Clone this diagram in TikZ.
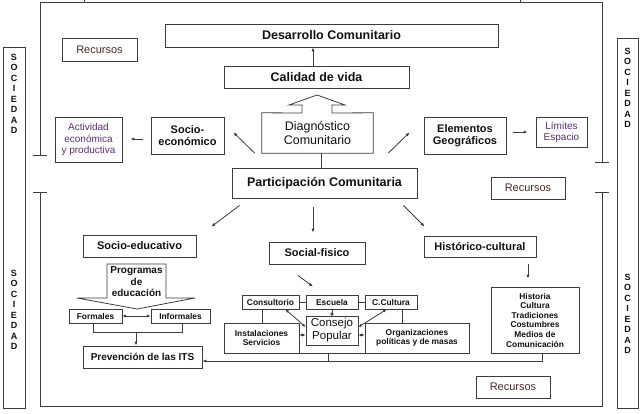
\documentclass[tikz,border=0pt]{standalone}
\usepackage{fontspec}
\setmainfont{Liberation Sans}
\usetikzlibrary{arrows.meta}
\definecolor{lc}{HTML}{3C3C3C}
\definecolor{txt}{HTML}{111111}
\definecolor{recc}{HTML}{4A2A2A}
\definecolor{purp}{HTML}{5A2E78}
\tikzset{
  box/.style={draw=lc, line width=0.8pt, inner sep=0pt, align=center, text=txt},
  bigb/.style={font=\fontsize{12.5}{14}\selectfont\bfseries},
  midb/.style={font=\fontsize{11}{12.5}\selectfont\bfseries},
  smb/.style={font=\fontsize{8.4}{9.6}\selectfont\bfseries},
  rectxt/.style={font=\fontsize{11}{13}\selectfont, text=recc},
  purtxt/.style={font=\fontsize{10}{11.2}\selectfont, text=purp},
  ln/.style={draw=lc, line width=0.8pt},
  arr/.style={ln, -{Latex[length=4pt,width=3.2pt]}},
  darr/.style={ln, {Latex[length=3.5pt,width=3pt]}-{Latex[length=3.5pt,width=3pt]}},
  socbar/.style={draw=lc, line width=0.8pt},
  soctxt/.style={align=center, inner sep=0pt, text=txt, font=\fontsize{9}{10.5}\selectfont\bfseries}
}
\begin{document}
\begin{tikzpicture}[x=1pt,y=-1pt]
\useasboundingbox[fill=white] (0,0) rectangle (642,414);

% outer frame
\draw[ln] (40,155) -- (40,2) -- (602,2) -- (602,162);
\draw[ln] (84,0) -- (84,2);
\draw[ln] (520,0) -- (520,2);
\draw[ln] (33,155) -- (47,155);
\draw[ln] (595,162) -- (609,162);
\draw[ln] (33,192) -- (47,192);
\draw[ln] (595,192) -- (609,192);
\draw[ln] (40,192) -- (40,406) -- (602,406) -- (602,192);

% SOCIEDAD bars
\draw[socbar] (3,47) rectangle (25,408);
\draw[socbar] (617,38) rectangle (638,408);
\node[soctxt] (socL1) at (14,94) {S\\O\\C\\I\\E\\D\\A\\D};
\node[soctxt] (socL2) at (14,310) {S\\O\\C\\I\\E\\D\\A\\D};
\node[soctxt] (socR1) at (627.5,88) {S\\O\\C\\I\\E\\D\\A\\D};
\node[soctxt] (socR2) at (627.5,314) {S\\O\\C\\I\\E\\D\\A\\D};

% top boxes
\node[box,bigb,minimum width=333,minimum height=23] (des) at (331.5,35.5) {Desarrollo Comunitario};
\node[box,rectxt,minimum width=75,minimum height=23] (rec1) at (99.5,49.5) {Recursos};
\node[box,bigb,minimum width=185,minimum height=22] (cal) at (316.5,77) {Calidad de vida};
\draw[arr] ([xshift=-3.5pt]cal.north) -- ([xshift=-3.5pt]cal.north |- des.south);

% diagnostico with block arrow
\node[inner sep=0pt,minimum width=111,minimum height=40,align=center,text=txt,
      font=\fontsize{12.5}{14.5}\selectfont] (diag) at (317.5,133) {Diagnóstico\\Comunitario};
\draw[ln] (diag.south west) -- (diag.north west) -- (302,113) -- (302,105) -- (289,105)
   -- (317,95) -- (345,105) -- (332,105) -- (332,113) -- (diag.north east)
   -- (diag.south east) -- cycle;

\node[box,bigb,minimum width=185,minimum height=30] (part) at (324.5,183) {Participación Comunitaria};
\draw[ln] ([xshift=3.5pt]diag.south) -- ([xshift=3.5pt]diag.south |- part.north);

\node[box,midb,minimum width=73,minimum height=37] (socec) at (187.5,135.5) {Socio-\\económico};
\node[box,purtxt,minimum width=67,minimum height=45] (act) at (88.5,139.5) {Actividad\\económica\\y productiva};
\node[box,midb,minimum width=82,minimum height=37] (elem) at (465,135.5) {Elementos\\Geográficos};
\node[box,purtxt,minimum width=51,minimum height=30] (lim) at (561.5,132) {Límites\\Espacio};
\node[box,rectxt,minimum width=74,minimum height=22] (rec2) at (528,188) {Recursos};

\draw[arr] ([xshift=-8pt,yshift=-3.5pt]socec.west) -- ([xshift=8pt,yshift=0.5pt]act.east);
\draw[arr] ([xshift=-7pt]diag.south west) -- ([xshift=9pt,yshift=22pt]socec.south east);
\draw[arr] ([xshift=15pt]diag.south east) -- ([xshift=-14pt,yshift=22pt]elem.south west);
\draw[arr] ([xshift=7pt,yshift=3.5pt]elem.east) -- ([xshift=-8pt]lim.west);

% second level
\node[box,midb,minimum width=113,minimum height=22] (soced) at (139.5,246) {Socio-educativo};
\node[box,midb,minimum width=96,minimum height=22] (socfis) at (317,253) {Social-fisico};
\node[box,midb,minimum width=112,minimum height=21] (hist) at (480,246.5) {Histórico-cultural};

\draw[arr] ([xshift=8pt,yshift=-7pt]part.south west) -- ([xshift=15pt,yshift=8pt]soced.north east);
\draw[arr] ([xshift=-11.5pt,yshift=-9pt]part.south) -- ([xshift=-4pt,yshift=9pt]socfis.north);
\draw[arr] ([xshift=-14pt,yshift=-7pt]part.south east) -- ([xshift=1pt,yshift=9pt]hist.north west);

% historico branch
\node[box,smb,minimum width=88,minimum height=66] (histbox) at (535,320)
  {Historia\\Cultura\\Tradiciones\\Costumbres\\Medios de\\Comunicación};
\draw[arr] ([xshift=48pt,yshift=-7pt]hist.south) -- ([xshift=-7pt,yshift=8pt]histbox.north);

% socio-educativo branch
\draw[ln] (107,298) -- (107,264) -- (166,264) -- (166,298) -- (195,298) -- (137,309)
   -- (77,298) -- cycle;
\node[align=center,inner sep=0pt,text=txt,font=\fontsize{10}{11.5}\selectfont\bfseries] (prog) at (136.5,282) {Programas\\de\\educación};
\node[box,smb,minimum width=53,minimum height=14] (form) at (95.5,316) {Formales};
\node[box,smb,minimum width=59,minimum height=14] (inf) at (180.5,316) {Informales};
\draw[darr] (form.east) -- (inf.west);
\draw[ln] ([xshift=-2.5pt]form.south) -- ++(0,9) -| ([xshift=1.5pt]inf.south);
\coordinate (br) at (136,332);
\node[box,font=\fontsize{10}{12}\selectfont\bfseries,minimum width=119,minimum height=22] (prev) at (142.5,357) {Prevención de las ITS};
\draw[arr] (br) -- (br |- prev.north);

% social-fisico cluster
\node[box,smb,minimum width=57,minimum height=14] (cons) at (270.5,302) {Consultorio};
\node[box,smb,minimum width=52,minimum height=14] (esc) at (332,302) {Escuela};
\node[box,smb,minimum width=52,minimum height=14] (ccult) at (391,302) {C.Cultura};
\node[box,smb,minimum width=75,minimum height=30] (inst) at (261.5,338) {Instalaciones\\Servicios};
\node[box,font=\fontsize{11.5}{13}\selectfont,minimum width=52,minimum height=29] (cpop) at (332,330.5) {Consejo\\Popular};
\node[box,smb,minimum width=104,minimum height=30] (org) at (417,338) {Organizaciones\\políticas y de masas};

\draw[arr] ([xshift=-19pt,yshift=-11pt]socfis.south) -- ([xshift=-19pt,yshift=8pt]esc.north);
\draw[ln] (cons.east) -- (esc.west);
\draw[ln] (esc.east) -- (ccult.west);
\draw[ln] ([xshift=-8.5pt]cons.south) -- ([xshift=-8.5pt]cons.south |- inst.north);
\draw[ln] ([xshift=11pt]ccult.south) -- ([xshift=11pt]ccult.south |- org.north);
\draw[ln,-{Circle[length=3pt]}] (esc.south) -- (cpop.north);
\draw[darr] ([xshift=-14pt]cons.south east) -- ([yshift=3.5pt]cpop.west);
\draw[darr] ([xshift=22pt]ccult.south west) -- ([yshift=3.5pt]cpop.east);
\draw[darr] ([yshift=3pt]inst.east) -- ([yshift=3pt]inst.east -| cpop.west);
\draw[darr] ([yshift=3pt]org.west) -- ([yshift=3pt]org.west -| cpop.east);
\draw[ln] (inst.south east) -- (org.south west);
\coordinate (jn) at (328,361);
\draw[ln] (jn |- inst.south) -- (jn);
\draw[arr] ([xshift=7pt]histbox.south) |- ([yshift=-4pt]prev.east);

\node[box,rectxt,minimum width=74,minimum height=22] (rec3) at (513,387) {Recursos};
\end{tikzpicture}
\end{document}
